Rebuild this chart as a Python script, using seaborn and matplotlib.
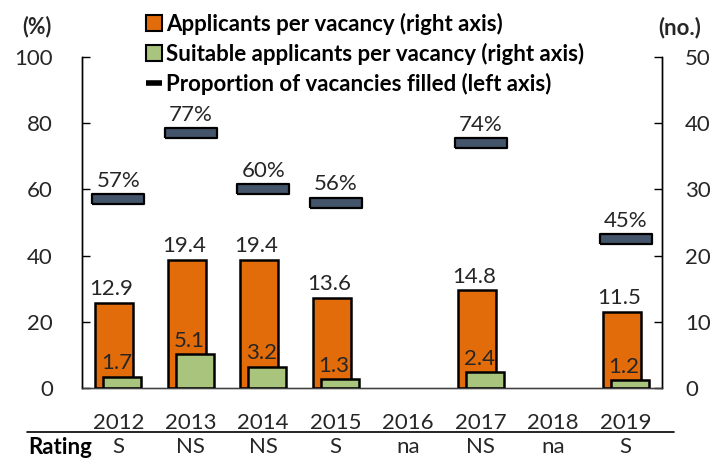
import numpy as np
import pandas as pd
import matplotlib
matplotlib.use("Agg")
import matplotlib.pyplot as plt
from matplotlib.patches import Patch
from matplotlib.lines import Line2D
import seaborn as sns

years = ["2012", "2013", "2014", "2015", "2016", "2017", "2018", "2019"]
applicants = [12.9, 19.4, 19.4, 13.6, np.nan, 14.8, np.nan, 11.5]
suitable = [1.7, 5.1, 3.2, 1.3, np.nan, 2.4, np.nan, 1.2]
filled = [57, 77, 60, 56, np.nan, 74, np.nan, 45]
ratings = ["S", "NS", "NS", "S", "na", "NS", "na", "S"]

legend_labels = ["Applicants per vacancy (right axis)",
                 "Suitable applicants per vacancy (right axis)",
                 "Proportion of vacancies filled (left axis)"]

ORANGE = "#E36C0A"
GREEN = "#A9C47C"
SLATE = "#44546A"
TXT = "#262626"
FS = 16

sns.set_theme(style="white")
plt.rcParams["font.family"] = ["Lato", "DejaVu Sans"]

df = pd.DataFrame({"year": years, "applicants": applicants,
                   "suitable": suitable, "filled": filled})

fig = plt.figure(figsize=(7.24, 4.59), dpi=100)
ax = fig.add_axes([82 / 724, 1 - 388 / 459, 580 / 724, 331 / 459])

# proportion markers on left axis
hw = 0.177
verts = [(-1, -hw), (1, -hw), (1, hw), (-1, hw), (-1, -hw)]
sns.stripplot(data=df, x="year", y="filled", order=years, jitter=False,
              marker=verts, size=37, color=SLATE, edgecolor="black",
              linewidth=1.6, ax=ax, zorder=3)

ax2 = ax.twinx()
bw = 0.53
shift = 4 / 72.5
sns.barplot(data=df, x="year", y="applicants", order=years, color=ORANGE,
            width=bw, edgecolor="black", linewidth=1.8, saturation=1,
            ax=ax2, zorder=2)
n_or = len(ax2.patches)
sns.barplot(data=df, x="year", y="suitable", order=years, color=GREEN,
            width=bw, edgecolor="black", linewidth=1.8, saturation=1,
            ax=ax2, zorder=2)
for i, p in enumerate(ax2.patches):
    p.set_x(p.get_x() + (-shift if i < n_or else shift))

# value labels
for i, p in enumerate(ax2.patches):
    h = p.get_height()
    if np.isnan(h) or h == 0:
        continue
    cx = p.get_x() + p.get_width() / 2
    dx = -2 if i < n_or else -4
    ax2.annotate(f"{h:.1f}", (cx, h), xytext=(dx, 2.5),
                 textcoords="offset points", ha="center", va="bottom",
                 fontsize=FS, color=TXT, zorder=5)

for xi, v in enumerate(filled):
    if np.isnan(v):
        continue
    ax.annotate(f"{v:.0f}%", (xi, v), xytext=(0, 6),
                textcoords="offset points", ha="center", va="bottom",
                fontsize=FS, color=TXT)

ax.set_ylim(0, 100)
ax2.set_ylim(0, 50)
ax.set_yticks(np.arange(0, 101, 20))
ax2.set_yticks(np.arange(0, 51, 10))
ax.set_xlim(-0.5, 7.5)
ax.set_xticks(range(len(years)))
ax.set_xticklabels(years)
for a in (ax, ax2):
    a.set_xlabel("")
    a.set_ylabel("")
    a.spines["top"].set_visible(False)
    for s in a.spines.values():
        s.set_color("black")
        s.set_linewidth(1.0)
ax.spines["bottom"].set_linewidth(0.8)
ax.spines["bottom"].set_color("#404040")
ax.tick_params(axis="y", direction="in", length=6, width=1, color="black",
               pad=21, labelsize=FS, labelcolor=TXT, left=True)
ax2.tick_params(axis="y", direction="in", length=6, width=1, color="black",
                pad=16.5, labelsize=FS, labelcolor=TXT, right=True)
ax.tick_params(axis="x", length=0, pad=18, labelsize=FS, labelcolor=TXT)
ax.set_zorder(ax2.get_zorder() + 1)
ax.patch.set_visible(False)

# axis unit titles
fig.text(37 / 724, 1 - 27 / 459, "(%)", ha="center", va="center",
         fontsize=15.5, fontweight="bold", color=TXT)
fig.text(680 / 724, 1 - 28 / 459, "(no.)", ha="center", va="center",
         fontsize=16, fontweight="bold", color=TXT)

# legend
handles = [Patch(facecolor=ORANGE, edgecolor="black", linewidth=1.5),
           Patch(facecolor=GREEN, edgecolor="black", linewidth=1.5),
           Line2D([0], [0], color="black", linewidth=4, solid_capstyle="butt")]
leg = fig.legend(handles, legend_labels, loc="upper left",
                 bbox_to_anchor=(146 / 724, 1 - 13 / 459), frameon=False,
                 prop={"size": 16, "weight": "bold"}, handlelength=0.72,
                 handleheight=0.72, handletextpad=0.2, labelspacing=0.36,
                 borderaxespad=0, borderpad=0)
for t in leg.get_texts():
    t.set_color("black")

# rating row
fig.add_artist(Line2D([27 / 724, 674 / 724], [1 - 432 / 459, 1 - 432 / 459],
                      color="black", linewidth=1.2))
fig.text(28 / 724, 1 - 447 / 459, "Rating", ha="left", va="center",
         fontsize=16, fontweight="bold", color="black")
for xi, r in enumerate(ratings):
    xd = ax.transData.transform((xi, 0))[0]
    fig.text(xd / fig.bbox.width, 1 - 447 / 459, r, ha="center",
             va="center", fontsize=FS, color=TXT)

fig.savefig("out.png", dpi=100)
